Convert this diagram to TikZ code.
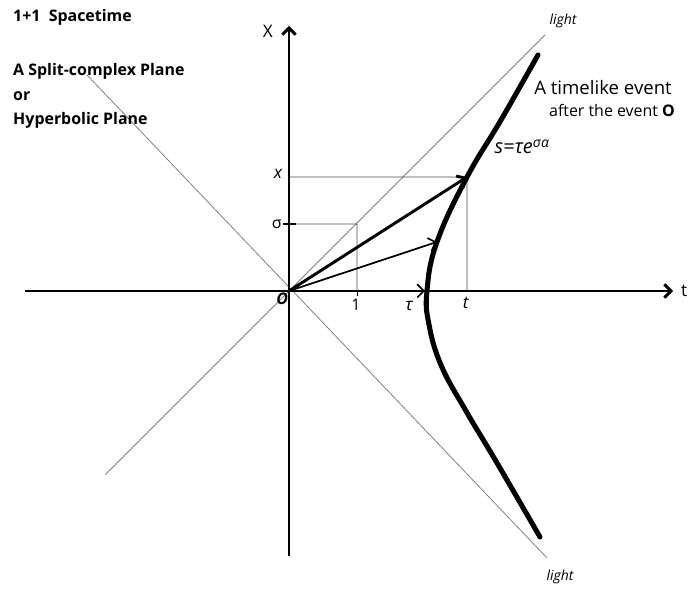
\documentclass[tikz,border=0pt]{standalone}
\usepackage{fontspec}
\setmainfont{Open Sans}
\usetikzlibrary{arrows.meta}
\tikzset{
    axis/.style={line width=2.2pt},
    lightline/.style={gray, line width=0.6pt},
    gridline/.style={black!70, line width=0.6pt},
    worldline/.style={line width=3.8pt, line cap=round},
    lbl/.style={font=\fontsize{12}{14}\selectfont, inner sep=1pt},
    title/.style={font=\bfseries\fontsize{12}{14}\selectfont, anchor=west, inner sep=0pt}
}
\begin{document}
\begin{tikzpicture}[scale=1.8, >={Straight Barb[length=5pt,width=10pt]}]
    \useasboundingbox (-4.25,-4.397) rectangle (5.897,4.279);
    % light cone
    \coordinate (O) at (0,0);
    \coordinate (L1) at (-2.7,-2.7);
    \coordinate (L2) at (3.765,3.765);
    \coordinate (L3) at (-2.97,3.176);
    \coordinate (L4) at (3.794,-3.926);
    \draw[lightline] (L1) -- (L2);
    \draw[lightline] (L3) -- (L4);
    \node[lbl, font=\itshape\fontsize{10.5}{12}\selectfont] (lightA) at (4.03,3.97) {light};
    \node[lbl, font=\itshape\fontsize{10.5}{12}\selectfont] (lightB) at (3.985,-4.206) {light};

    % points on the hyperbola
    \coordinate (P) at (2.618,1.676);
    \coordinate (Q) at (2.176,0.721);
    \coordinate (V) at (2.0,0);
    \coordinate (S) at (1,0.985);

    % grid lines
    \draw[gridline] (0,1.676) -- (P) -- (2.618,0);
    \draw[gridline] (0,0.985) -- (S) -- (1,0);
    \draw[line width=1.2pt] (-0.088,0.985) -- (0.103,0.985);
    \draw[line width=0.6pt] (1,0) -- (1,-0.07);

    % axes
    \coordinate (TL) at (-3.882,0);
    \coordinate (TR) at (5.647,0);
    \coordinate (XB) at (0,-3.897);
    \coordinate (XT) at (0,3.897);
    \draw[axis, ->] (TL) -- (TR);
    \draw[axis, ->] (XB) -- (XT);
    \node[lbl, font=\fontsize{13}{15}\selectfont] (tlab) at (5.81,0) {t};
    \node[lbl, font=\fontsize{13}{15}\selectfont] (xlab) at (-0.31,3.82) {X};

    % hyperbola
    \draw[worldline] plot[smooth, tension=0.7] coordinates {(3.662,3.471) (3.118,2.515) (2.618,1.676) (2.176,0.721) (2.029,0) (2.06,-0.5) (2.24,-1.1) (2.6,-1.76) (3.059,-2.529) (3.691,-3.618)};

    % vectors
    \draw[->, line width=2.2pt] (O) -- (P);
    \draw[->, line width=1.3pt] (O) -- (Q);
    \draw[->, line width=1.3pt] (O) -- (V);

    % labels
    \node[lbl, font=\itshape\fontsize{13}{15}\selectfont] (x) at (-0.16,1.72) {x};
    \node[lbl] (sigma) at (-0.18,0.985) {σ};
    \node[lbl, font=\bfseries\itshape\fontsize{12}{14}\selectfont] (o) at (-0.1,-0.12) {O};
    \node[lbl] (one) at (0.985,-0.2) {1};
    \node[lbl, font=\itshape\fontsize{13}{15}\selectfont] (tau) at (1.765,-0.22) {τ};
    \node[lbl, font=\itshape\fontsize{13}{15}\selectfont] (t) at (2.6,-0.17) {t};
    \node[lbl, anchor=west, font=\itshape\fontsize{15}{17}\selectfont] (eq) at (3.0,2.12) {s=τe\textsuperscript{σα}};
    \node[lbl, font=\fontsize{14}{16}\selectfont] (event) at (4.618,2.985) {A timelike event};
    \node[lbl, font=\fontsize{12}{14}\selectfont] (after) at (4.75,2.66) {after the event \textbf{O}};

    % titles
    \node[title] (st) at (-4.059,4.025) {1+1\ \ Spacetime};
    \node[title] (split) at (-4.059,3.235) {A Split-complex Plane};
    \node[title] (or) at (-4.059,2.868) {or};
    \node[title] (hyp) at (-4.059,2.515) {Hyperbolic Plane};
\end{tikzpicture}
\end{document}
